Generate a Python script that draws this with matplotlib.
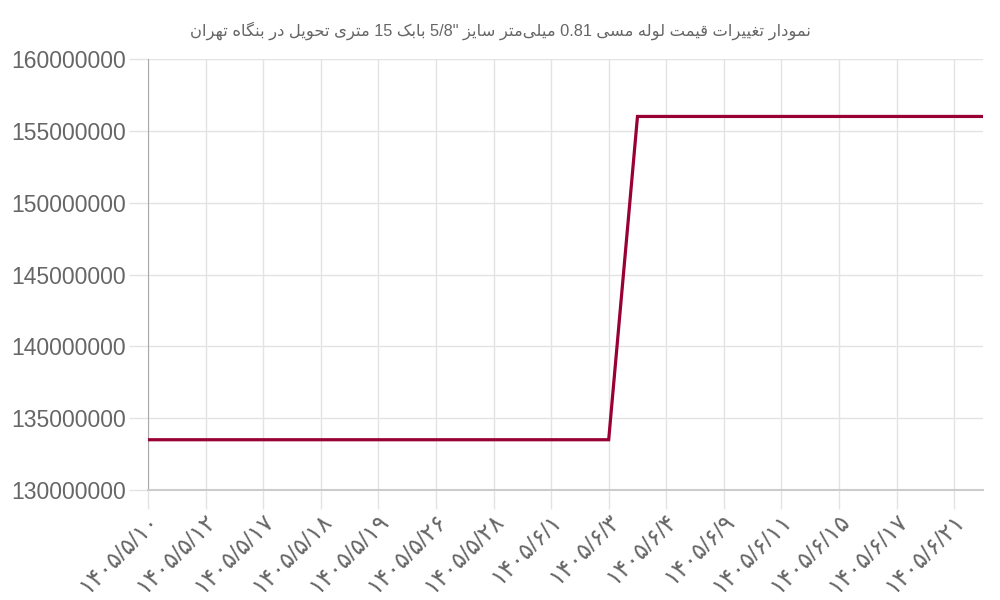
import numpy as np
import matplotlib
matplotlib.use('Agg')
import matplotlib.pyplot as plt

plt.rcParams['font.family'] = ['Liberation Sans', 'DejaVu Sans']

# داده‌ها
title_text = 'نمودار تغییرات قیمت لوله مسی 0.81 میلی‌متر سایز 5/8" بابک 15 متری تحویل در بنگاه تهران'
date_labels = ['۱۴۰۵/۵/۱۰', '۱۴۰۵/۵/۱۲', '۱۴۰۵/۵/۱۷', '۱۴۰۵/۵/۱۸', '۱۴۰۵/۵/۱۹',
               '۱۴۰۵/۵/۲۶', '۱۴۰۵/۵/۲۸', '۱۴۰۵/۶/۱', '۱۴۰۵/۶/۳', '۱۴۰۵/۶/۴',
               '۱۴۰۵/۶/۹', '۱۴۰۵/۶/۱۱', '۱۴۰۵/۶/۱۵', '۱۴۰۵/۶/۱۷', '۱۴۰۵/۶/۲۱']
prices = [133500000] * 17 + [156000000] * 13

# شکل‌دهی حروف فارسی (matplotlib خودش انجام نمی‌دهد)
# iso, fin, ini, med
forms = {
    'ا': (0xFE8D, 0xFE8E, None, None),
    'ب': (0xFE8F, 0xFE90, 0xFE91, 0xFE92),
    'ت': (0xFE95, 0xFE96, 0xFE97, 0xFE98),
    'ح': (0xFEA1, 0xFEA2, 0xFEA3, 0xFEA4),
    'د': (0xFEA9, 0xFEAA, None, None),
    'ر': (0xFEAD, 0xFEAE, None, None),
    'ز': (0xFEAF, 0xFEB0, None, None),
    'س': (0xFEB1, 0xFEB2, 0xFEB3, 0xFEB4),
    'غ': (0xFECD, 0xFECE, 0xFECF, 0xFED0),
    'ق': (0xFED5, 0xFED6, 0xFED7, 0xFED8),
    'ل': (0xFEDD, 0xFEDE, 0xFEDF, 0xFEE0),
    'م': (0xFEE1, 0xFEE2, 0xFEE3, 0xFEE4),
    'ن': (0xFEE5, 0xFEE6, 0xFEE7, 0xFEE8),
    'ه': (0xFEE9, 0xFEEA, 0xFEEB, 0xFEEC),
    'و': (0xFEED, 0xFEEE, None, None),
    'ی': (0xFBFC, 0xFBFD, 0xFBFE, 0xFBFF),
    'ک': (0xFB8E, 0xFB8F, 0xFB90, 0xFB91),
    'گ': (0xFB92, 0xFB93, 0xFB94, 0xFB95),
}


def shape_word(w):
    out = []
    for i, c in enumerate(w):
        if c not in forms:
            if c != '\u200c':
                out.append(c)
            continue
        p = w[i - 1] if i > 0 else ''
        n = w[i + 1] if i + 1 < len(w) else ''
        join_prev = p in forms and forms[p][2] is not None
        join_next = n in forms and forms[c][2] is not None
        f = forms[c]
        if join_prev and join_next:
            g = f[3]
        elif join_prev:
            g = f[1]
        elif join_next:
            g = f[2]
        else:
            g = f[0]
        out.append(chr(g))
    return ''.join(out[::-1])


def rtl(text):
    words = text.split(' ')
    res = []
    for w in words[::-1]:
        if any(c in forms for c in w):
            res.append(shape_word(w))
        else:
            res.append(w)
    return ' '.join(res)


x = np.arange(len(prices))

fig = plt.figure(figsize=(10, 6), dpi=100)
ax = fig.add_axes([0.148, 0.1833, 0.835, 0.7184])

ax.plot(x, prices, color='#990033', linewidth=2.3, solid_joinstyle='miter', zorder=3)

ax.set_xlim(0, len(prices) - 1)
ax.set_ylim(130000000, 160000000)
ax.set_yticks(np.arange(130000000, 160000001, 5000000))
ax.yaxis.set_major_formatter(matplotlib.ticker.FuncFormatter(lambda v, p: '%d' % v))
ax.set_xticks(x[::2])
ax.set_xticklabels(date_labels, rotation=45, ha='right', rotation_mode='anchor')

ax.grid(True, color='#e3e3e3', linewidth=1)
ax.set_axisbelow(True)
for s in ['top', 'right']:
    ax.spines[s].set_visible(False)
ax.spines['left'].set_color('#aaaaaa')
ax.spines['left'].set_bounds(130000000, 160000000)
ax.spines['bottom'].set_color('#cccccc')
ax.spines['bottom'].set_linewidth(1.5)

ax.tick_params(axis='y', length=14, width=1, color='#e3e3e3', pad=2,
               labelsize=16.5, labelcolor='#666666')
ax.tick_params(axis='x', length=14, width=1, color='#e3e3e3', pad=0,
               labelsize=17, labelcolor='#666666')
ax.xaxis.get_major_ticks()[0].tick1line.set_color('#aaaaaa')

fig.text(0.5, 0.949, rtl(title_text), ha='center', va='center',
         fontsize=11.8, color='#666666')

fig.savefig('out.png', dpi=100)
